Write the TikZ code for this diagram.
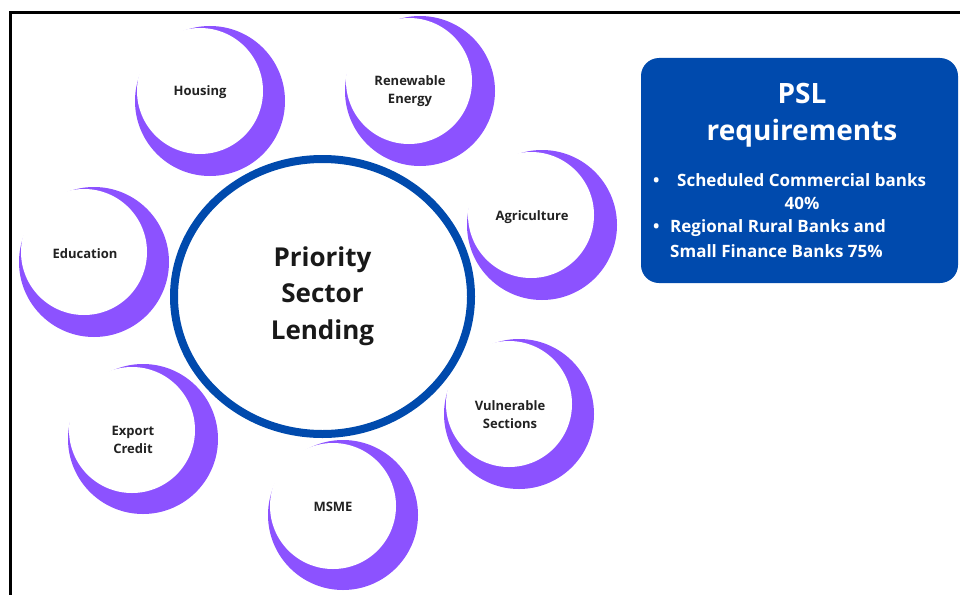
\documentclass[tikz,border=0pt]{standalone}
\usepackage{fontspec}
\setmainfont{Open Sans}
\usetikzlibrary{shapes.geometric}
\definecolor{pslpurple}{HTML}{8C52FF}
\definecolor{pslblue}{HTML}{004AAD}
\definecolor{labelgray}{HTML}{222222}
\tikzset{
  outerdisk/.style={circle, fill=pslpurple, minimum size=150pt, inner sep=0pt},
  innerdisk/.style={circle, fill=white, minimum size=126pt, inner sep=0pt},
  sectorlabel/.style={align=center, text=labelgray, font=\bfseries\fontsize{13}{18}\selectfont, inner sep=0pt},
  hubring/.style={ellipse, draw=pslblue, line width=8pt, fill=white, minimum width=297pt, minimum height=275pt, inner sep=0pt},
  hubtext/.style={align=center, text=black!90, font=\bfseries\fontsize{26}{36.5}\selectfont, inner sep=0pt},
  infobox/.style={rounded corners=18pt, fill=pslblue, minimum width=317pt, minimum height=225pt, inner sep=0pt},
  boxtitle/.style={text=white, font=\bfseries\fontsize{28}{37}\selectfont, inner sep=0pt, anchor=base},
  boxitem/.style={text=white, font=\bfseries\fontsize{17}{24}\selectfont, inner sep=0pt, anchor=base west},
}
\begin{document}
\begin{tikzpicture}[x=1pt, y=-1pt]
  \useasboundingbox (0,0) rectangle (960,594);
  \clip (0,0) rectangle (960,594);

  % outer frame
  \draw[line width=3pt] (10,620) -- (10,13) -- (980,13);

  % sector discs: purple base with an offset white face
  \node[outerdisk] (housingP) at (210,101) {};
  \node[innerdisk] (housingW) at (200,91) {};
  \node[sectorlabel] (housing) at (200,92) {Housing};

  \node[outerdisk] (renewP) at (420,91) {};
  \node[innerdisk] (renewW) at (409,81) {};
  \node[sectorlabel] (renew) at (410,91) {Renewable\\Energy};

  \node[outerdisk] (agriP) at (542,225) {};
  \node[innerdisk] (agriW) at (531,215) {};
  \node[sectorlabel] (agri) at (532,217) {Agriculture};

  \node[outerdisk] (eduP) at (94,262) {};
  \node[innerdisk] (eduW) at (84,252) {};
  \node[sectorlabel] (edu) at (85,254) {Education};

  \node[outerdisk] (vulnP) at (519,414) {};
  \node[innerdisk] (vulnW) at (509,404) {};
  \node[sectorlabel] (vuln) at (510,415) {Vulnerable\\Sections};

  \node[outerdisk] (exportP) at (143,439) {};
  \node[innerdisk] (exportW) at (132,430) {};
  \node[sectorlabel] (export) at (133,440) {Export\\Credit};

  \node[outerdisk] (msmeP) at (343,515) {};
  \node[innerdisk] (msmeW) at (333,506) {};
  \node[sectorlabel] (msme) at (333,507) {MSME};

  % central hub
  \node[hubring] (hub) at (322.5,296.5) {};
  \node[hubtext] (hubtxt) at (322.5,296) {Priority\\Sector\\Lending};

  % requirements box
  \node[infobox] (box) at (799.5,170.5) {};
  \node[boxtitle] (title1) at (802,103) {PSL};
  \node[boxtitle] (title2) at (802,140) {requirements};
  \node[boxitem] (b1) at (653,186) {\textbullet};
  \node[boxitem] (item1) at (677,186) {Scheduled Commercial banks};
  \node[boxitem, anchor=base] (item1b) at (802,209) {40\%};
  \node[boxitem] (b2) at (653,232) {\textbullet};
  \node[boxitem] (item2) at (670,232) {Regional Rural Banks and};
  \node[boxitem] (item2b) at (670,257) {Small Finance Banks 75\%};
\end{tikzpicture}
\end{document}
